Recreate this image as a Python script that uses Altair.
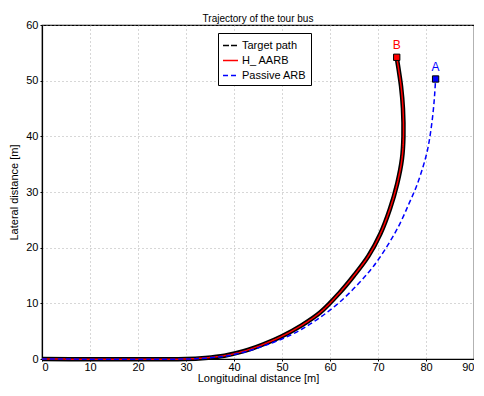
import altair as alt
import pandas as pd

# Target path / H_ AARB (overlapping)
target_x = [0, 30, 34, 38, 42, 46, 50, 54, 58, 62, 65, 68, 70.5, 72.5, 74, 75, 75.3, 75.2, 74.8, 74.3, 73.9]
target_y = [0, 0, 0.2, 0.6, 1.4, 2.6, 4.1, 6.0, 8.4, 11.9, 15.0, 18.5, 22.5, 27, 31.5, 36, 40, 45, 49, 52, 54.2]
hinf_x = target_x
hinf_y = target_y
# Passive ARB
passive_x = [0, 30, 34, 38, 42, 46, 50, 54, 58, 62, 66, 69, 72, 74.5, 76.5, 78, 79.3, 80.3, 81.0, 81.5, 81.8, 82.0]
passive_y = [0, 0, 0.15, 0.5, 1.2, 2.3, 3.6, 5.3, 7.5, 10.2, 13.6, 16.6, 20.4, 24.2, 28, 31, 34.3, 37.5, 41, 44.5, 47.5, 50.3]

series_names = ["Target path", "H_ AARB", "Passive ARB"]
series_colors = ["#000000", "#ff0000", "#0000ff"]
series_dash = [[6, 2], [1, 0], [5, 3]]

end_labels = ["B", "A"]
end_x = [73.9, 82.0]
end_y = [54.2, 50.3]
end_colors = ["#ff0000", "#0000ff"]

def frame(xs, ys, name):
    return pd.DataFrame({"x": xs, "y": ys, "series": name, "order": range(len(xs))})

df_t = frame(target_x, target_y, series_names[0])
df_h = frame(hinf_x, hinf_y, series_names[1])
df_p = frame(passive_x, passive_y, series_names[2])
df_end = pd.DataFrame({"x": end_x, "y": end_y, "label": end_labels, "c": end_colors})

xs = alt.Scale(domain=[0, 90], nice=False)
ys = alt.Scale(domain=[0, 60], nice=False)

X = alt.X("x:Q", scale=xs, title="Longitudinal distance [m]",
          axis=alt.Axis(values=list(range(0, 91, 10)), labelFlush=True))
Y = alt.Y("y:Q", scale=ys, title="Lateral distance [m]",
          axis=alt.Axis(values=list(range(0, 61, 10))))

color = alt.Color("series:N", scale=alt.Scale(domain=series_names, range=series_colors),
                  legend=alt.Legend(title=None, orient="none", legendX=176, legendY=8,
                                    symbolType="stroke", symbolSize=225, symbolStrokeWidth=1.5,
                                    labelFontSize=11, labelFont="Liberation Sans",
                                    fillColor="white", strokeColor="black", padding=4,
                                    rowPadding=1, labelOffset=3))
dash = alt.StrokeDash("series:N", scale=alt.Scale(domain=series_names, range=series_dash),
                      legend=None)

interp = "catmull-rom"
base_black = alt.Chart(df_t).mark_line(color="black", strokeWidth=4.5, interpolate=interp).encode(
    x=X, y=Y, order="order:Q")
target_line = alt.Chart(df_t).mark_line(strokeWidth=1.5, interpolate=interp).encode(
    x=X, y=Y, order="order:Q", color=color, strokeDash=dash)
hinf_line = alt.Chart(df_h).mark_line(strokeWidth=1.5, interpolate=interp).encode(
    x=X, y=Y, order="order:Q", color=color, strokeDash=dash)
passive_line = alt.Chart(df_p).mark_line(strokeWidth=1.5, interpolate=interp).encode(
    x=X, y=Y, order="order:Q", color=color, strokeDash=dash)

squares = alt.Chart(df_end).mark_point(shape="square", size=40, filled=True,
                                       stroke="black", strokeWidth=1, opacity=1).encode(
    x=X, y=Y, fill=alt.Fill("c:N", scale=None))
labels = alt.Chart(df_end).mark_text(dy=-12, fontSize=12, font="Liberation Sans").encode(
    x=X, y=Y, text="label:N", color=alt.Color("c:N", scale=None))

chart = alt.layer(base_black, target_line, hinf_line, passive_line, squares, labels).properties(
    width=432, height=334,
    title=alt.TitleParams("Trajectory of the tour bus", fontSize=10, fontWeight="normal",
                          font="Liberation Sans", offset=-5),
    autosize=alt.AutoSizeParams(type="none"),
    padding={"left": 34, "top": 17, "right": 0, "bottom": 25},
).configure_view(stroke="black", strokeWidth=1.2).configure_axis(
    grid=True, gridColor="#999999", gridDash=[1, 3], gridWidth=0.8,
    domainColor="black", domainWidth=1.2, tickColor="black", tickSize=2,
    labelFont="Liberation Sans", labelFontSize=11, labelColor="black",
    titleFont="Liberation Sans", titleFontSize=11, titleFontWeight="normal", titleColor="black",
).configure_axisX(labelPadding=0, titlePadding=0).configure_axisY(labelPadding=2, titlePadding=6)

chart.save("out.html", embed_options={"renderer": "svg", "actions": False})
